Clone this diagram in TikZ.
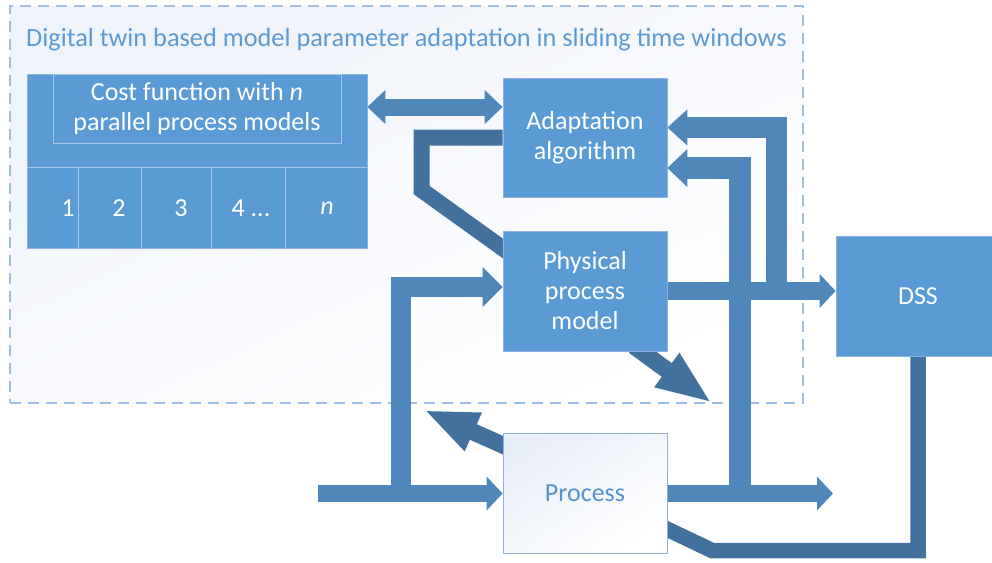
\documentclass[tikz,border=0pt]{standalone}
\usepackage{fontspec}
\setmainfont{Carlito}
\usetikzlibrary{arrows.meta}
\definecolor{boxblue}{HTML}{5B9BD5}
\definecolor{arrmid}{HTML}{4F87BA}
\definecolor{arrdark}{HTML}{41719C}
\definecolor{framec}{HTML}{9DBFE3}
\definecolor{boxedge}{HTML}{8DB4E0}
\definecolor{cellline}{HTML}{A9C6E8}
\definecolor{frametop}{HTML}{EFF3FA}
\definecolor{proctop}{HTML}{E8EEF8}
\definecolor{procedge}{HTML}{8FB1DB}
\definecolor{proctext}{HTML}{5593CF}
\pgfdeclarelayer{back}
\pgfdeclarelayer{arr}
\pgfsetlayers{back,arr,main}
\begin{document}
\begin{tikzpicture}[x=1pt,y=-1pt,
  txt/.style={font=\fontsize{26}{30}\selectfont},
  bluebox/.style={draw=boxedge, line width=0.8pt, fill=boxblue, text=white, txt, align=center, inner sep=0pt},
  marr/.style={draw=arrmid, line cap=butt, line join=miter},
  darr/.style={draw=arrdark, line cap=butt, line join=miter},
  celltext/.style={text=white, txt, inner sep=0pt}]
\useasboundingbox (0,0) rectangle (992,562);
\clip (0,0) rectangle (992,562);

% ---------- boxes ----------
\node[bluebox, minimum width=340pt, minimum height=174pt] (cf) at (197,161) {};
\node[draw=cellline, line width=0.8pt, minimum width=288pt, minimum height=69pt, text=white, txt, align=center, inner sep=0pt] (cfin) at (197,108.5) {Cost function with \textit{n}\\parallel process models};
\draw[cellline, line width=0.8pt] (cf.west |- 0,167) -- (cf.east |- 0,167);
\foreach \x in {78,141,211,285} \draw[cellline, line width=0.8pt] (\x,167) -- (\x,248);
\node[celltext] (c1) at (68,208) {1};
\node[celltext] (c2) at (119,208) {2};
\node[celltext] (c3) at (181,208) {3};
\node[celltext] (c4) at (251,208) {4 ...};
\node[celltext] (cn) at (327,208) {\textit{n}};

\node[bluebox, minimum width=164pt, minimum height=119pt] (adapt) at (585,137.5) {Adaptation\\algorithm};
\node[bluebox, minimum width=164pt, minimum height=120pt] (phys) at (585,291) {Physical\\process\\model};
\node[draw=procedge, line width=0.8pt, top color=proctop, bottom color=white, shading angle=35, text=proctext, txt, minimum width=164pt, minimum height=120pt, inner sep=0pt] (proc) at (585,493) {Process};
\node[bluebox, minimum width=164pt, minimum height=120pt] (dss) at (918,296) {DSS};

% ---------- frame ----------
\begin{pgfonlayer}{back}
\node[draw=framec, line width=1.2pt, dash pattern=on 11pt off 7pt, top color=frametop, bottom color=white, shading angle=25, minimum width=793pt, minimum height=397pt, inner sep=0pt] (frame) at (406.5,204.5) {};
\node[anchor=west, text=boxblue, font=\fontsize{26.3}{30}\selectfont, inner sep=0pt] (title) at (26,40) {Digital twin based model parameter adaptation in sliding time windows};
\end{pgfonlayer}

% ---------- connectors ----------
\begin{pgfonlayer}{arr}
\coordinate (b1) at (421.5,137.5);
\coordinate (b2) at (421.5,190);
\coordinate (b3) at (512,255);
\coordinate (f1s) at (776.5,295);
\coordinate (f1b) at (776.5,127.5);
\coordinate (f2s) at (740,494);
\coordinate (f2b) at (740,168);
\coordinate (out) at (833,493.5);
\coordinate (in) at (318,493.5);
\coordinate (vs) at (401,491);
\coordinate (vb) at (401,287);
\coordinate (ul) at (424,410);
\coordinate (ulS) at (525,455);
\coordinate (dr) at (712,403);
\coordinate (drS) at (634,346);
\coordinate (k1) at (918,550.5);
\coordinate (k2) at (712,550.5);
\coordinate (k3) at (650,521);

\draw[marr, line width=17pt, {Triangle[width=33pt,length=18pt]}-{Triangle[width=33pt,length=18pt]}] (cf.east |- 0,107) -- (adapt.west |- 0,107);
\draw[darr, line width=16pt] (adapt.west) -- (b1) -- (b2) -- (b3);
\draw[marr, line width=18pt, -{Triangle[width=33pt,length=16pt]}] (phys.east |- 0,291) -- (dss.west |- 0,291);
\draw[marr, line width=17pt, -{Triangle[width=33pt,length=16pt]}] (proc.east |- 0,493.5) -- (out);
\draw[marr, line width=17pt, -{Triangle[width=33pt,length=16pt]}] (in) -- (proc.west |- 0,493.5);
\draw[marr, line width=21pt, -{Triangle[width=35pt,length=20pt]}] (f1s) -- (f1b) -- (adapt.east |- f1b);
\draw[marr, line width=22pt, -{Triangle[width=37pt,length=20pt]}] (f2s) -- (f2b) -- (adapt.east |- f2b);
\draw[marr, line width=20pt, -{Triangle[width=39pt,length=20pt]}] (vs) -- (vb) -- (phys.west |- vb);
\draw[darr, line width=17pt, -{Triangle[width=38pt,length=54pt]}] (ulS) -- (ul);
\draw[darr, line width=17pt, -{Triangle[width=38pt,length=56pt]}] (drS) -- (dr);
\draw[darr, line width=15.5pt] (dss.south) -- (k1) -- (k2) -- (k3);
\end{pgfonlayer}
\end{tikzpicture}
\end{document}
